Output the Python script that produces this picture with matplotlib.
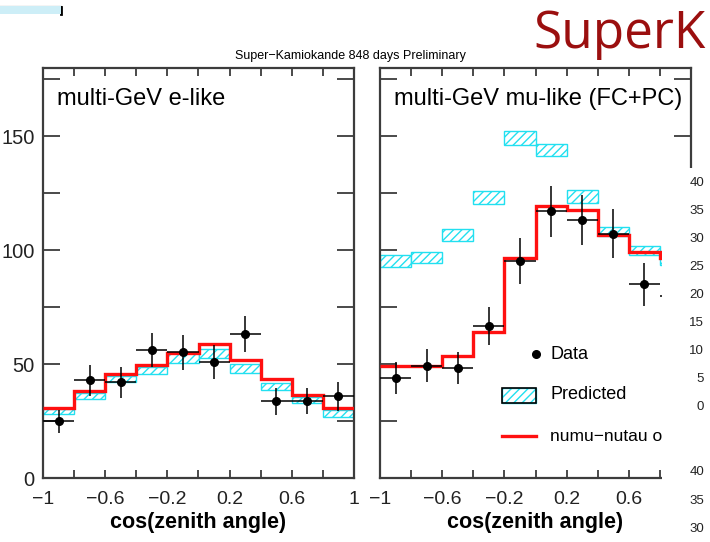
import numpy as np
import matplotlib.pyplot as plt
from matplotlib.patches import Rectangle

plt.rcParams['font.family'] = ['Liberation Sans', 'DejaVu Sans']

# bin edges for cos(zenith angle)
edges = np.linspace(-1, 1, 11)
centers = 0.5 * (edges[:-1] + edges[1:])

# multi-GeV e-like
e_data     = [24.9, 42.9, 42.0, 56.2, 55.2, 50.9, 63.2, 33.7, 33.7, 35.8]
e_data_err = [5.0, 6.8, 6.8, 7.6, 7.7, 7.6, 8.0, 6.0, 5.8, 6.4]
e_pred     = [29.1, 36.1, 43.5, 47.3, 52.5, 54.7, 47.9, 40.1, 34.2, 28.3]
e_pred_err = [1.2, 1.2, 1.2, 1.5, 2.2, 1.8, 2.0, 1.4, 1.4, 1.4]
e_osc      = [30.6, 38.0, 45.7, 49.6, 55.0, 59.0, 51.6, 43.3, 36.4, 30.6]

# multi-GeV mu-like (FC+PC)
mu_data     = [44.0, 49.3, 48.1, 66.8, 95.2, 117.1, 113.2, 107.3, 85.1, 80.0]
mu_data_err = [7.0, 7.2, 7.0, 8.2, 10.0, 11.2, 11.0, 10.7, 9.5, 9.0]
mu_pred     = [95.3, 96.8, 106.8, 123.2, 149.1, 144.0, 123.6, 108.2, 99.8, 95.5]
mu_pred_err = [2.6, 2.4, 2.7, 2.7, 3.1, 2.8, 2.7, 2.0, 2.0, 2.0]
mu_osc      = [49.3, 49.3, 53.5, 63.9, 96.4, 119.3, 117.8, 106.6, 99.3, 96.5]

xtick_vals = [-1, -0.6, -0.2, 0.2, 0.6, 1]
xtick_labels = ['\u22121', '\u22120.6', '\u22120.2', '0.2', '0.6', '1']
ytick_vals = [0, 50, 100, 150]

side_numbers = ['40', '35', '30', '25', '20', '15', '10', '5', '0']
side_numbers_low = ['40', '35', '30']

frame_col = '#3c3c3c'
cyan = '#22e0f0'


def draw_panel(ax, title, data, derr, pred, perr, osc):
    for lo, hi, p, pe in zip(edges[:-1], edges[1:], pred, perr):
        ax.add_patch(Rectangle((lo, p - pe), hi - lo, 2 * pe, facecolor='white',
                               edgecolor=cyan, hatch='////', linewidth=1.0, zorder=2))
    ax.stairs(osc, edges, baseline=None, color='#ff1010', linewidth=2.4, zorder=3)
    ax.errorbar(centers, data, xerr=0.1, yerr=derr, fmt='o', color='black',
                markersize=5.5, elinewidth=1.1, capsize=0, zorder=4)
    ax.set_xlim(-1, 1)
    ax.set_ylim(0, 180)
    ax.set_xticks(np.arange(-1, 1.01, 0.2), minor=True)
    ax.set_xticks(xtick_vals)
    ax.set_xticklabels(xtick_labels)
    ax.set_yticks(np.arange(0, 180, 25), minor=True)
    ax.set_yticks(ytick_vals)
    ax.tick_params(axis='x', which='both', direction='in', length=6, width=1.3,
                   top=True, bottom=True, color=frame_col, labelsize=14, pad=9,
                   labelcolor='#222222')
    ax.tick_params(axis='y', which='both', direction='in', length=12, width=1.3,
                   left=True, right=True, color=frame_col, labelsize=14.5, pad=6,
                   labelcolor='#222222')
    for sp in ax.spines.values():
        sp.set_linewidth(1.6)
        sp.set_color(frame_col)
    ax.set_xlabel('cos(zenith angle)', fontsize=15.5, fontweight='bold', labelpad=3)
    ax.text(0.045, 0.925, title, transform=ax.transAxes, fontsize=17,
            ha='left', va='center')


fig = plt.figure(figsize=(7.1, 5.42), dpi=100)
axL = fig.add_axes([43 / 710, 1 - 478 / 542, 311 / 710, 410 / 542])
axR = fig.add_axes([380 / 710, 1 - 478 / 542, 311 / 710, 410 / 542])

draw_panel(axL, 'multi-GeV e-like', e_data, e_data_err, e_pred, e_pred_err, e_osc)
draw_panel(axR, 'multi-GeV mu-like (FC+PC)', mu_data, mu_data_err, mu_pred, mu_pred_err, mu_osc)
axR.set_yticklabels([])
# the last label of the right panel is covered on the slide
axR.set_xticklabels(xtick_labels[:-1] + [''])

# legend drawn inside the right panel
axR.plot([0.502], [0.302], 'o', color='black', markersize=5.5, transform=axR.transAxes)
axR.text(0.547, 0.302, 'Data', transform=axR.transAxes, fontsize=13, va='center')
axR.add_patch(Rectangle((0.393, 0.183), 0.109, 0.037, transform=axR.transAxes,
                        facecolor='white', edgecolor=cyan, hatch='////', linewidth=1))
axR.add_patch(Rectangle((0.393, 0.183), 0.109, 0.037, transform=axR.transAxes,
                        facecolor='none', edgecolor='black', linewidth=1.2))
axR.text(0.547, 0.203, 'Predicted', transform=axR.transAxes, fontsize=13, va='center')
axR.plot([0.393, 0.502], [0.102, 0.102], color='#ff1010', linewidth=2.4,
         transform=axR.transAxes)
axR.text(0.547, 0.102, 'numu\u2212nutau osc.', transform=axR.transAxes, fontsize=12.5,
         va='center')

fig.text(350 / 710, 1 - 56 / 542, 'Super\u2212Kamiokande 848 days Preliminary',
         fontsize=9, ha='center', va='center')

# slide overlays
fig.text(706 / 710, 1 - 35 / 542, 'SuperK', fontsize=37, color='#9b0f0f',
         ha='right', va='center', family=['Open Sans', 'DejaVu Sans'])
fig.add_artist(Rectangle((662 / 710, 0), 48 / 710, 1 - 168 / 542,
                         transform=fig.transFigure, facecolor='white',
                         edgecolor='none', zorder=10))
for i, s in enumerate(side_numbers):
    fig.text(704 / 710, 1 - (183 + 28 * i) / 542, s, fontsize=9.5, ha='right',
             va='center', color='#222222', zorder=11)
for i, s in enumerate(side_numbers_low):
    fig.text(704 / 710, 1 - (472 + 28.5 * i) / 542, s, fontsize=9.5, ha='right',
             va='center', color='#222222', zorder=11)

fig.add_artist(Rectangle((0, 1 - 14 / 542), 61 / 710, 8 / 542,
                         transform=fig.transFigure, facecolor='#cdeef7',
                         edgecolor='none', zorder=10))
fig.add_artist(plt.Line2D([0, 61 / 710], [1 - 7 / 542, 1 - 7 / 542],
                          transform=fig.transFigure, color='black', linewidth=1.5))
fig.add_artist(plt.Line2D([61 / 710, 61 / 710], [1 - 7 / 542, 1 - 14 / 542],
                          transform=fig.transFigure, color='black', linewidth=2))

fig.savefig('out.png', dpi=100)
